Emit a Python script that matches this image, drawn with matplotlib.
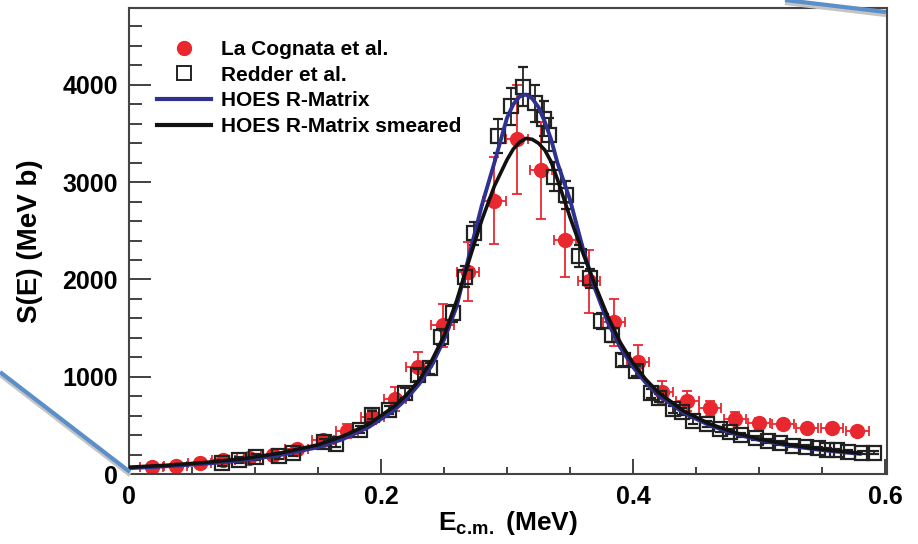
import matplotlib
matplotlib.use('Agg')
import matplotlib.pyplot as plt
from matplotlib.lines import Line2D
from matplotlib.ticker import MultipleLocator

plt.rcParams['font.family'] = ['Liberation Sans', 'DejaVu Sans']
plt.rcParams['font.weight'] = 'bold'
plt.rcParams['mathtext.fontset'] = 'custom'
plt.rcParams['mathtext.rm'] = 'Liberation Sans:bold'
plt.rcParams['mathtext.bf'] = 'Liberation Sans:bold'

# La Cognata et al. (red points)
lc_x = [0.018, 0.037, 0.056, 0.075, 0.095, 0.114, 0.133, 0.154, 0.173, 0.193,
        0.211, 0.229, 0.249, 0.269, 0.290, 0.308, 0.327, 0.346, 0.365, 0.385,
        0.404, 0.423, 0.443, 0.461, 0.481, 0.500, 0.519, 0.538, 0.558, 0.578]
lc_y = [70, 85, 115, 140, 165, 195, 255, 345, 440, 590,
        770, 1100, 1530, 2080, 2810, 3440, 3120, 2410, 1980, 1560,
        1155, 840, 750, 675, 570, 520, 510, 470, 470, 445]
lc_dy = [25, 25, 25, 30, 30, 35, 40, 60, 70, 80,
         120, 150, 220, 300, 450, 560, 500, 380, 320, 240,
         170, 120, 100, 80, 65, 55, 45, 40, 35, 30]
lc_dx = 0.009

# Redder et al. (open squares)
rd_x = [0.074, 0.087, 0.101, 0.119, 0.130, 0.155, 0.164, 0.183, 0.193, 0.206,
        0.219, 0.229, 0.239, 0.248, 0.2575, 0.267, 0.274, 0.293, 0.3035, 0.3125,
        0.3225, 0.329, 0.333, 0.337, 0.347, 0.357, 0.366, 0.375, 0.383, 0.392,
        0.402, 0.414, 0.421, 0.432, 0.439, 0.448, 0.459, 0.469, 0.477, 0.486,
        0.498, 0.507, 0.517, 0.527, 0.537, 0.547, 0.554, 0.562, 0.571, 0.582, 0.591]
rd_y = [110, 145, 172, 188, 220, 325, 305, 455, 605, 655,
        830, 1020, 1085, 1410, 1650, 2030, 2474, 3475, 3780, 3980,
        3810, 3650, 3485, 3056, 2868, 2240, 2010, 1575, 1430, 1172,
        1060, 830, 785, 665, 640, 545, 510, 460, 435, 401,
        367, 340, 315, 290, 281, 264, 250, 247, 229, 219, 219]
rd_dy = [30, 30, 30, 30, 30, 30, 30, 35, 40, 40,
         50, 60, 60, 80, 90, 110, 120, 175, 190, 200,
         190, 180, 170, 150, 140, 110, 100, 80, 70, 60,
         55, 45, 40, 35, 35, 30, 30, 25, 25, 20,
         20, 20, 20, 15, 15, 15, 15, 15, 15, 15, 15]

# R-matrix curves
cx = [0.0, 0.03, 0.06, 0.09, 0.12, 0.15, 0.17, 0.19, 0.21, 0.22,
      0.23, 0.24, 0.25, 0.26, 0.27, 0.28, 0.29, 0.30, 0.305, 0.31,
      0.315, 0.32, 0.325, 0.33, 0.335, 0.34, 0.35, 0.36, 0.37, 0.38,
      0.39, 0.40, 0.41, 0.42, 0.44, 0.46, 0.48, 0.50, 0.52, 0.54, 0.56, 0.58]
hoes = [60, 80, 105, 140, 195, 275, 360, 480, 650, 770,
        920, 1110, 1380, 1720, 2250, 2760, 3200, 3660, 3800, 3880,
        3900, 3860, 3770, 3620, 3440, 3200, 2820, 2330, 1900, 1560,
        1300, 1100, 940, 810, 630, 505, 415, 350, 300, 262, 232, 208]
hoes_smeared = [70, 90, 118, 155, 215, 300, 390, 510, 690, 810,
                960, 1160, 1420, 1780, 2200, 2610, 2960, 3230, 3340, 3410,
                3450, 3440, 3400, 3330, 3210, 3030, 2640, 2280, 1940, 1620,
                1350, 1140, 975, 840, 650, 520, 428, 360, 310, 270, 240, 214]

red = '#e8282e'
blue = '#2e318f'
sq_col = '#222222'

fig = plt.figure(figsize=(9.18, 5.44), dpi=100)
ax = fig.add_axes([129 / 918, 1 - 474 / 544, (887 - 129) / 918, (474 - 8) / 544])

ax.errorbar(lc_x, lc_y, yerr=lc_dy, xerr=lc_dx, fmt='o', color=red, ms=10,
            elinewidth=1.3, capsize=3.5, capthick=1.3, zorder=2)
ax.errorbar(rd_x, rd_y, yerr=rd_dy, fmt='s', mfc='none', mec=sq_col, mew=1.6,
            ms=10.5, ecolor=sq_col, elinewidth=1.3, capsize=3.5, capthick=1.3, zorder=3)
ax.plot(cx, hoes, color=blue, lw=2.8, zorder=4)
ax.plot(cx, hoes_smeared, color='#111111', lw=2.6, zorder=5)

ax.set_xlim(0, 0.6016)
ax.set_ylim(0, 4790)
ax.xaxis.set_minor_locator(MultipleLocator(0.05))
ax.yaxis.set_major_locator(MultipleLocator(1000))
ax.yaxis.set_minor_locator(MultipleLocator(200))
ax.set_xticks([0, 0.2, 0.4, 0.6])
ax.set_xticklabels(['0', '0.2', '0.4', '0.6'])
ax.tick_params(axis='both', which='both', direction='in', top=False, right=False,
               width=1.3, color='#333333', labelsize=18, pad=8)
ax.tick_params(axis='y', which='major', length=16)
ax.tick_params(axis='y', which='minor', length=9)
ax.tick_params(axis='x', which='major', length=11)
ax.tick_params(axis='x', which='minor', length=5)
for s in ax.spines.values():
    s.set_linewidth(1.5)
    s.set_color('#444444')

ax.set_ylabel('S(E) (MeV b)', fontsize=20, fontweight='bold', labelpad=14)
ax.set_xlabel(r'$\mathbf{E_{c.\!m.}}$ (MeV)', fontsize=19, fontweight='bold', labelpad=0)

handles = [Line2D([], [], ls='none', marker='o', color=red, ms=10),
           Line2D([], [], ls='none', marker='s', mfc='none', mec=sq_col, mew=1.4, ms=10),
           Line2D([], [], color=blue, lw=3),
           Line2D([], [], color='#111111', lw=3)]
labels = ['La Cognata et al.', 'Redder et al.', 'HOES R-Matrix', 'HOES R-Matrix smeared']
leg = ax.legend(handles, labels, loc='upper left', bbox_to_anchor=(0.02, 0.958), frameon=False,
                fontsize=15, handlelength=2.6, handletextpad=0.5, labelspacing=0.32,
                borderaxespad=0.2)
for t in leg.get_texts():
    t.set_fontweight('bold')

# callout lines from the slide
W, H = 918, 544
for (x0, y0, x1, y1), c, dy in [((785, 0, 886, 12), '#c4c4c4', 3), ((0, 372, 130, 472), '#c4c4c4', 3),
                                 ((785, 0, 886, 12), '#5b8fc9', 0), ((0, 372, 130, 472), '#5b8fc9', 0)]:
    fig.add_artist(Line2D([x0 / W, x1 / W], [1 - (y0 + dy) / H, 1 - (y1 + dy) / H],
                          color=c, lw=3, solid_capstyle='butt'))

fig.savefig('out.png', dpi=100)
